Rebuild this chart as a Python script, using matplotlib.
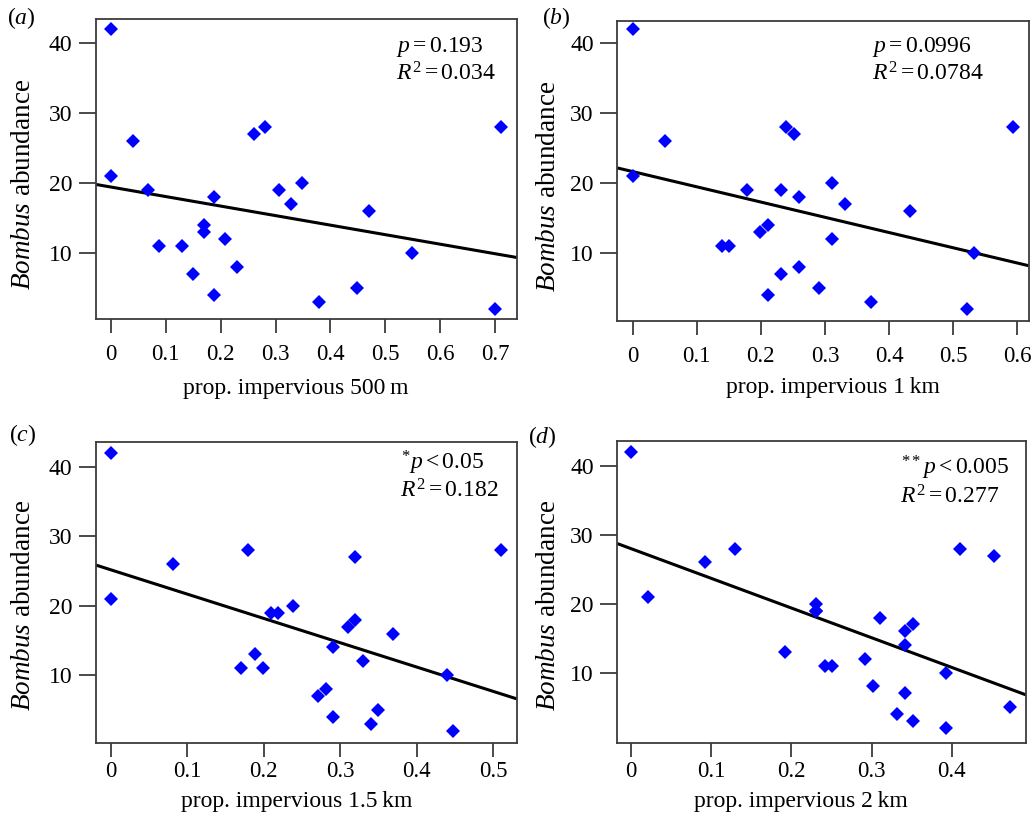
import matplotlib
matplotlib.use("Agg")
import matplotlib.pyplot as plt
import numpy as np

plt.rcParams['font.family'] = ['Liberation Serif', 'DejaVu Serif']
plt.rcParams['mathtext.fontset'] = 'custom'
plt.rcParams['mathtext.rm'] = 'Liberation Serif'
plt.rcParams['mathtext.it'] = 'Liberation Serif:italic'
plt.rcParams['mathtext.bf'] = 'Liberation Serif:bold'

# ---- data ----
a_x = [0, 0.04, 0, 0.068, 0.188, 0.17, 0.17, 0.088, 0.13, 0.208, 0.15, 0.229,
       0.188, 0.26, 0.28, 0.307, 0.328, 0.349, 0.47, 0.379, 0.448, 0.548, 0.70, 0.71]
a_y = [42, 26, 21, 19, 18, 14, 13, 11, 11, 12, 7, 8, 4, 27, 28, 19, 17, 20, 16,
       3, 5, 10, 2, 28]

b_x = [0, 0.05, 0, 0.179, 0.231, 0.259, 0.311, 0.332, 0.432, 0.211, 0.199, 0.139,
       0.150, 0.311, 0.532, 0.231, 0.259, 0.211, 0.291, 0.372, 0.521, 0.239, 0.251, 0.593]
b_y = [42, 26, 21, 19, 19, 18, 20, 17, 16, 14, 13, 11, 11, 12, 10, 7, 8, 4, 5, 3,
       2, 28, 27, 28]

c_x = [0, 0, 0.081, 0.179, 0.320, 0.51, 0.209, 0.219, 0.239, 0.320, 0.310, 0.369,
       0.291, 0.330, 0.189, 0.170, 0.199, 0.439, 0.281, 0.271, 0.291, 0.350, 0.340, 0.448]
c_y = [42, 21, 26, 28, 27, 28, 19, 19, 20, 18, 17, 16, 14, 12, 13, 11, 11, 10, 8,
       7, 4, 5, 3, 2]

d_x = [0, 0.021, 0.092, 0.130, 0.41, 0.452, 0.231, 0.231, 0.310, 0.351, 0.342, 0.342,
       0.192, 0.292, 0.242, 0.251, 0.393, 0.302, 0.342, 0.472, 0.331, 0.351, 0.393, 0.231]
d_y = [42, 21, 26, 28, 28, 27, 20, 19, 18, 17, 16, 14, 13, 12, 11, 11, 10, 8, 7,
       5, 4, 3, 2, 19]

# fitted regression lines (intercept, slope)
fit_intercepts = [19.43, 21.66, 25.18, 28.0]
fit_slopes = [-13.6, -21.75, -35.0, -43.1]

panel_letters = ['a', 'b', 'c', 'd']
x_labels = ['prop. impervious 500\u2009m', 'prop. impervious 1\u2009km',
            'prop. impervious 1.5\u2009km', 'prop. impervious 2\u2009km']
p_texts = [r'$p = 0.193$', r'$p = 0.0996$', r'${}^{*}p < 0.05$', r'${}^{**}p < 0.005$']
r2_texts = [r'$R^2 = 0.034$', r'$R^2 = 0.0784$', r'$R^2 = 0.182$', r'$R^2 = 0.277$']
x_tick_values = [[0, 0.1, 0.2, 0.3, 0.4, 0.5, 0.6, 0.7],
                 [0, 0.1, 0.2, 0.3, 0.4, 0.5, 0.6],
                 [0, 0.1, 0.2, 0.3, 0.4, 0.5],
                 [0, 0.1, 0.2, 0.3, 0.4]]
y_tick_values = [10, 20, 30, 40]

xs = [a_x, b_x, c_x, d_x]
ys = [a_y, b_y, c_y, d_y]

# ---- layout ----
W, H = 1035, 815
fig = plt.figure(figsize=(W / 100, H / 100), dpi=100)

def rect(l, t, r, b):
    return [l / W, 1 - b / H, (r - l) / W, (b - t) / H]

rects = [rect(96, 19, 517, 319.5), rect(617.3, 20.7, 1028.7, 320.7),
         rect(96, 442, 517, 742.7), rect(617.3, 440.7, 1026, 742.7)]
xlims = [(-0.027, 0.7396), (-0.024, 0.618), (-0.019, 0.531), (-0.0172, 0.4924)]
ylims = [(0.53, 43.4), (0.37, 43.2), (0.3, 43.55), (-0.16, 43.67)]
ann_pos = [((0.713, 0.89), (0.713, 0.797)), ((0.618, 0.897), (0.618, 0.802)),
           ((0.724, 0.909), (0.722, 0.816)), ((0.694, 0.889), (0.692, 0.793))]
ylabel_pos = [(-0.173, 0.448), (-0.168, 0.449), (-0.173, 0.458), (-0.168, 0.455)]
xlabel_pos = [(0.475, -0.228), (0.524, -0.224), (0.476, -0.196), (0.448, -0.196)]
xtick_pad = [8, 8, 3, 3]
letter_pos = [(21, 18), (556, 18), (23, 435), (542, 437)]

spine_color = '#3c3c3c'
for i in range(4):
    ax = fig.add_axes(rects[i])
    ax.plot(xs[i], ys[i], linestyle='none', marker='D', ms=7.5, color='#0000ff',
            markeredgewidth=0, zorder=3)
    lx = np.array(xlims[i])
    ax.plot(lx, fit_intercepts[i] + fit_slopes[i] * lx, color='black', lw=2.2,
            zorder=2, solid_capstyle='butt')
    ax.set_xlim(*xlims[i])
    ax.set_ylim(*ylims[i])
    ax.set_xticks(x_tick_values[i])
    ax.set_xticklabels(['0' if v == 0 else f'{v:g}' for v in x_tick_values[i]])
    ax.set_yticks(y_tick_values)
    ax.tick_params(axis='x', length=10, width=1.3, color=spine_color,
                   labelsize=16.5, pad=xtick_pad[i])
    ax.tick_params(axis='y', length=12, width=1.3, color=spine_color,
                   labelsize=17, pad=5)
    for s in ax.spines.values():
        s.set_color(spine_color)
        s.set_linewidth(1.3)
    ax.set_ylabel(r'$\mathit{Bombus}$ abundance', fontsize=19.5, va='center')
    ax.yaxis.set_label_coords(*ylabel_pos[i])
    ax.set_xlabel(x_labels[i], fontsize=17, va='center')
    ax.xaxis.set_label_coords(*xlabel_pos[i])
    (px, py), (rx, ry) = ann_pos[i]
    ax.text(px, py, p_texts[i], transform=ax.transAxes, fontsize=17,
            ha='left', va='baseline')
    ax.text(rx, ry, r2_texts[i], transform=ax.transAxes, fontsize=17,
            ha='left', va='baseline')
    lxp, lyp = letter_pos[i]
    fig.text(lxp / W, 1 - lyp / H, '(' + r'$\mathit{' + panel_letters[i] + '}$' + ')',
             fontsize=17, ha='center', va='center')

fig.savefig('out.png', dpi=100)
